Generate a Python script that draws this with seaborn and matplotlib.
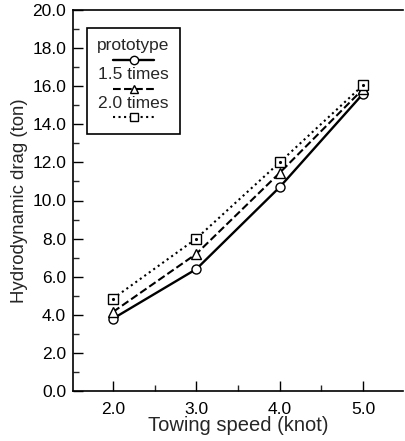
import seaborn as sns
import matplotlib.pyplot as plt
import numpy as np
from matplotlib.lines import Line2D
from matplotlib.offsetbox import TextArea, DrawingArea, VPacker, AnchoredOffsetbox

# towing speed (knot)
speed = [2.0, 3.0, 4.0, 5.0]
# hydrodynamic drag (ton)
prototype = [3.8, 6.4, 10.7, 15.6]
times_15 = [4.15, 7.2, 11.45, 15.85]
times_20 = [4.85, 8.0, 12.0, 16.05]

series_names = ['prototype', '1.5 times', '2.0 times']
series_vals = [prototype, times_15, times_20]
styles = [('-', 'o', 1.7), ('--', '^', 1.5), (':', 's', 1.5)]

sns.set_style('ticks')
plt.rcParams['font.family'] = ['Liberation Sans', 'DejaVu Sans']

fig = plt.figure(figsize=(4.06, 4.41), dpi=100)
ax = fig.add_axes([73 / 406, 50 / 441, (403 - 73) / 406, (391 - 10) / 441])

for name, vals, (ls, mk, lw) in zip(series_names, series_vals, styles):
	sns.lineplot(x=speed, y=vals, ax=ax, color='black', linestyle=ls, linewidth=lw,
	             marker=mk, markersize=6.5, markerfacecolor='white',
	             markeredgecolor='black', markeredgewidth=1.0, zorder=3)
	if mk == 's':
		ax.plot(speed, vals, linestyle='none', marker='.', markersize=2.5, color='black', zorder=4)

ax.set_xlim(1.52, 5.48)
ax.set_ylim(0, 20)
ax.set_xticks([2.0, 3.0, 4.0, 5.0])
ax.set_xticks([2.5, 3.5, 4.5], minor=True)
ax.set_yticks(np.arange(0, 20.1, 2.0))
ax.set_yticks(np.arange(1, 20, 2.0), minor=True)
ax.set_xticklabels(['%.1f' % v for v in [2.0, 3.0, 4.0, 5.0]])
ax.set_yticklabels(['%.1f' % v for v in np.arange(0, 20.1, 2.0)])
ax.tick_params(which='major', direction='in', length=7, width=1.0, labelsize=12.5, colors='black')
ax.tick_params(which='minor', direction='in', length=4, width=1.0)
ax.tick_params(axis='x', pad=8)
ax.tick_params(axis='y', pad=5)
for s in ['left', 'bottom', 'top']:
	ax.spines[s].set_color('black')
	ax.spines[s].set_linewidth(1.2)
ax.spines['right'].set_visible(False)
ax.set_xlabel('Towing speed (knot)', fontsize=14.5, labelpad=-1)
ax.set_ylabel('Hydrodynamic drag (ton)', fontsize=13.4, labelpad=3)

# legend: label text above each line sample
rows = []
for name, (ls, mk, lw) in zip(series_names, styles):
	da = DrawingArea(30, 9, 0, 0)
	da.add_artist(Line2D([0, 30], [4.5, 4.5], color='black', linestyle=ls, linewidth=lw))
	da.add_artist(Line2D([15], [4.5], color='black', marker=mk, markersize=6,
	                     markerfacecolor='white', markeredgewidth=1.0))
	rows.append(VPacker(children=[TextArea(name, textprops=dict(fontsize=12.5)), da],
	                    align='center', pad=0, sep=0))
box = VPacker(children=rows, align='center', pad=0, sep=1)
anch = AnchoredOffsetbox(loc='upper left', child=box, pad=0.75, frameon=True,
                         bbox_to_anchor=(87 / 406, 1 - 28 / 441),
                         bbox_transform=fig.transFigure, borderpad=0)
anch.patch.set_edgecolor('black')
anch.patch.set_linewidth(1.2)
anch.patch.set_boxstyle('square,pad=0')
ax.add_artist(anch)

fig.savefig('out.png', dpi=100)
